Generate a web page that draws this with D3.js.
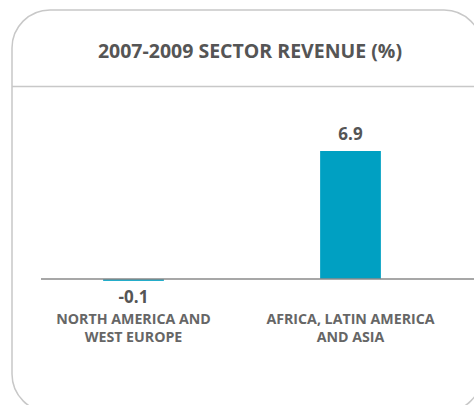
<!DOCTYPE html>
<html>
<head>
<meta charset="utf-8">
<script src="https://cdn.jsdelivr.net/npm/d3@7"></script>
<style>
  html, body { margin: 0; padding: 0; background: #fff; overflow: hidden; }
  svg { display: block; }
  text { font-family: "Open Sans", "Noto Sans", sans-serif; font-weight: 700; }
</style>
</head>
<body>
<svg id="chart" width="474" height="405"></svg>
<script>
// Chart content
const title = "2007-2009 SECTOR REVENUE (%)";
const regions = ["NORTH AMERICA AND|WEST EUROPE", "AFRICA, LATIN AMERICA|AND ASIA"];
const revenue = [-0.1, 6.9];
const valueLabels = ["-0.1", "6.9"];

const W = 474, H = 405;
const svg = d3.select("#chart");

// Card with rounded corners; its right and bottom sides run past the edge
const card = { x: 12, y: 10, w: 470, h: 402, r: 38 };
svg.append("rect")
  .attr("x", card.x).attr("y", card.y)
  .attr("width", card.w).attr("height", card.h)
  .attr("rx", card.r).attr("ry", card.r)
  .attr("fill", "#fff")
  .attr("stroke", "#c8c8c8")
  .attr("stroke-width", 1.5);

// Header divider
svg.append("line")
  .attr("x1", card.x).attr("x2", W)
  .attr("y1", 86.5).attr("y2", 86.5)
  .attr("stroke", "#c8c8c8")
  .attr("stroke-width", 1.5);

svg.append("text")
  .attr("x", 250).attr("y", 58)
  .attr("text-anchor", "middle")
  .attr("font-size", 19.5)
  .attr("fill", "#555")
  .text(title);

// Scales
const x = d3.scaleBand()
  .domain(regions)
  .range([25, 459])
  .paddingInner(0.72)
  .paddingOuter(0.36);

const y = d3.scaleLinear()
  .domain([0, 6.9])
  .range([279, 151]);

// Bars
svg.append("g")
  .selectAll("rect")
  .data(regions)
  .join("rect")
  .attr("x", d => x(d))
  .attr("width", x.bandwidth())
  .attr("y", (d, i) => y(Math.max(0, revenue[i])))
  .attr("height", (d, i) => Math.abs(y(revenue[i]) - y(0)))
  .attr("fill", "#00a0c2");

// Zero axis
svg.append("line")
  .attr("x1", 41).attr("x2", W)
  .attr("y1", y(0)).attr("y2", y(0))
  .attr("stroke", "#8a8a8a")
  .attr("stroke-width", 1.5);

// Value labels
svg.append("g")
  .selectAll("text")
  .data(regions)
  .join("text")
  .attr("x", d => x(d) + x.bandwidth() / 2)
  .attr("y", (d, i) => revenue[i] >= 0 ? y(revenue[i]) - 11 : 303)
  .attr("text-anchor", "middle")
  .attr("font-size", 17)
  .attr("fill", "#555")
  .text((d, i) => valueLabels[i]);

// Category labels (two lines each)
const cat = svg.append("g")
  .selectAll("text")
  .data(regions)
  .join("text")
  .attr("text-anchor", "middle")
  .attr("font-size", 14.2)
  .attr("fill", "#666");
cat.selectAll("tspan")
  .data(d => d.split("|").map(s => ({ s, cx: x(d) + x.bandwidth() / 2 })))
  .join("tspan")
  .attr("x", t => t.cx)
  .attr("y", (t, i) => 324 + i * 18)
  .text(t => t.s);
</script>
</body>
</html>
